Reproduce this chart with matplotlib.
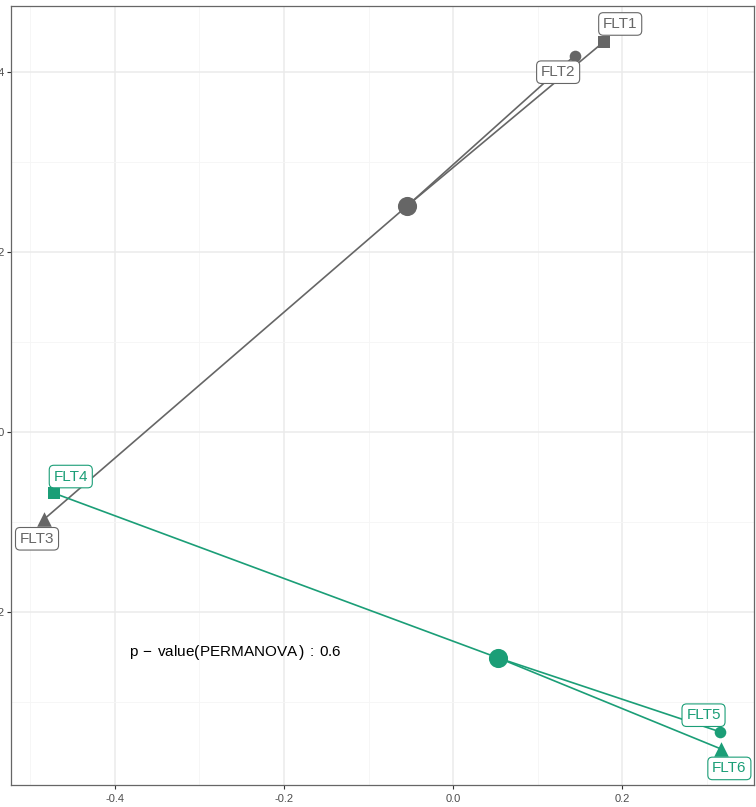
import matplotlib
matplotlib.use("Agg")
import matplotlib.pyplot as plt
from matplotlib.ticker import MultipleLocator, FuncFormatter

plt.rcParams["font.family"] = ["Liberation Sans", "DejaVu Sans"]
plt.rcParams["mathtext.fontset"] = "custom"
plt.rcParams["mathtext.rm"] = "Liberation Sans"

# Sample coordinates
samples = ["FLT1", "FLT2", "FLT3", "FLT4", "FLT5", "FLT6"]
groups = ["A", "A", "A", "B", "B", "B"]
shapes = ["s", "o", "^", "s", "o", "^"]
xs = [0.178, 0.144, -0.484, -0.472, 0.316, 0.317]
ys = [0.433, 0.418, -0.097, -0.068, -0.333, -0.352]
group_colors = {"A": "#666666", "B": "#1B9E77"}
p_text = r"$\mathrm{p}\,-\,\mathrm{value}\left(\mathrm{PERMANOVA}^{\,}_{\,}\right)\,:\,\mathrm{0.6}$"

# label offsets (points) for the repelled labels
label_offsets = [(12, 13), (-12, -12), (-5, -14), (12, 12), (-12, 12), (6, -14)]

fig = plt.figure(figsize=(7.56, 8.07), dpi=100)
ax = fig.add_axes([11 / 756, 22 / 807, 743 / 756, 779 / 807])

ax.set_xlim(-0.523, 0.356)
ax.set_ylim(-0.392, 0.473)
ax.xaxis.set_major_locator(MultipleLocator(0.2))
ax.yaxis.set_major_locator(MultipleLocator(0.2))
ax.xaxis.set_minor_locator(MultipleLocator(0.1))
ax.yaxis.set_minor_locator(MultipleLocator(0.1))
ax.grid(which="major", color="#EBEBEB", linewidth=1.1)
ax.grid(which="minor", color="#F5F5F5", linewidth=0.6)
ax.set_axisbelow(True)
ax.tick_params(which="major", length=3, color="#333333", labelsize=8, labelcolor="#4D4D4D", pad=1.5)
ax.tick_params(axis="x", pad=3.5)
ax.tick_params(which="minor", length=0)
ax.xaxis.set_major_formatter(FuncFormatter(lambda v, p: f"{v:.1f}"))
ax.yaxis.set_major_formatter(FuncFormatter(lambda v, p: f"{v:.1f}"))
for s in ax.spines.values():
    s.set_color("#666666")
    s.set_linewidth(0.9)

# centroids and spider lines
for g in ["A", "B"]:
    idx = [i for i, gg in enumerate(groups) if gg == g]
    cx = sum(xs[i] for i in idx) / len(idx)
    cy = sum(ys[i] for i in idx) / len(idx)
    col = group_colors[g]
    for i in idx:
        ax.plot([cx, xs[i]], [cy, ys[i]], color=col, linewidth=1.2, zorder=2)
    ax.scatter([cx], [cy], s=190, color=col, zorder=3, linewidths=0)

for i, name in enumerate(samples):
    col = group_colors[groups[i]]
    sz = 75 if shapes[i] == "s" else (70 if shapes[i] == "o" else 110)
    ax.scatter([xs[i]], [ys[i]], marker=shapes[i], s=sz, color=col, zorder=4, linewidths=0)
    ax.annotate(name, (xs[i], ys[i]), xytext=label_offsets[i], textcoords="offset points",
                ha="center", va="center", fontsize=11, color=col, zorder=5,
                bbox=dict(boxstyle="round,pad=0.28,rounding_size=0.3", fc="white", ec=col, lw=0.8))

ax.text(-0.258, -0.246, p_text, ha="center", va="center", fontsize=11, color="black")

fig.savefig("out.png", dpi=100)
